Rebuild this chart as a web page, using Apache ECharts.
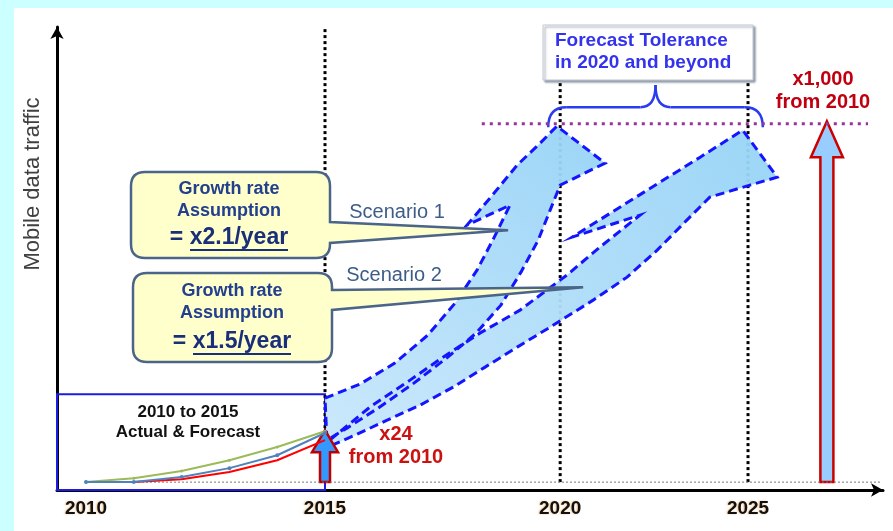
<!DOCTYPE html>
<html>
<head>
<meta charset="utf-8">
<script src="https://cdn.jsdelivr.net/npm/echarts@6.0.0/dist/echarts.min.js"></script>
<style>
html,body{margin:0;padding:0;background:#ccffff;}
#main{width:893px;height:531px;}
</style>
</head>
<body>
<div id="main"></div>
<script>
var FONT = '"Liberation Sans", Arial, sans-serif';

// schematic time axis: position of each year label
var tickPos = [0, 5, 9.92, 13.85];
var tickLabels = ['2010', '2015', '2020', '2025'];

// 2010-2015 actual & forecast (relative traffic, 100 = x1,000 level)
var histPos = [0, 1, 2, 3, 4, 5];
var greenVals = [0, 1.1, 3.1, 6.1, 9.8, 14.2];
var blueVals = [0, 0, 1.4, 3.9, 7.5, 13.7];
var redVals = [0, 0, 0.8, 2.8, 6.1, 11.7];

// scenario bands (outline)
var band1 = [[5.00,23.44],[5.73,27.34],[6.46,33.20],[7.15,41.02],[7.72,49.94],[8.18,59.15],[8.51,67.52],[8.87,77.29],
    [7.97,71.71],[8.45,79.24],[9.02,88.45],[9.50,94.59],[9.85,99.33],[10.86,89.01],[9.92,82.87],
    [9.71,75.89],[9.46,67.52],[9.10,58.59],[8.68,49.39],[8.16,41.57],[7.57,34.88],[6.86,27.62],[6.11,20.65],[5.46,15.07],[5.04,11.72]];
var band2 = [[5.10,11.72],[5.94,20.93],[6.78,28.46],[7.47,34.88],[8.24,41.57],[9.08,47.99],[10.06,57.76],[10.75,65.57],[11.59,74.50],
    [10.17,68.36],[11.17,76.73],[12.01,83.71],[12.85,90.68],[13.74,98.21],[14.46,85.10],[13.89,82.87],[13.05,79.52],
    [12.57,73.10],[11.95,64.73],[11.32,57.20],[10.61,50.78],[9.71,43.25],[9.02,37.67],[8.35,32.09],[7.68,26.51],[6.99,21.48],[6.30,17.30],[5.63,13.11],[5.10,10.04]];
var bands = [band2, band1];

var arrowTips = [[5, 14.5], [15.5, 100.7]];        // x24 in 2015, x1,000 target
var guideLines = [[5, 127], [9.92, 112.2], [13.85, 112.2]];
var targetLine = [[8.28, 100], [16.36, 100]];
var baseLine = [[0, 0], [16.61, 0]];
var histBox = [[-0.607, -2.2, 5, 24.55]];
var braceSpan = [[9.67, 99.05, 14.16, 110.8]];
var calloutTips = [[8.83, 70.3], [10.40, 54.4]];

var arrowLooks = [
    {shaft: 10, head: 26, headLen: 22, fill: '#3399ff', stroke: '#c00000', lw: 2.5},
    {shaft: 13, head: 32, headLen: 36, fill: '#99ccff', stroke: '#cc0000', lw: 2.5}
];
var calloutBoxes = [
    {x: 131, y: 172, w: 199, h: 86, b0: 222, b1: 243},
    {x: 133, y: 273, w: 199, h: 89, b0: 290, b1: 310}
];

var chart = echarts.init(document.getElementById('main'));

function bandPoints(i, api) {
    return bands[i].map(function (p) { return api.coord(p); });
}
function renderBandFill(params, api) {
    return {
        type: 'polygon',
        shape: {points: bandPoints(params.dataIndex, api)},
        style: {
            fill: new echarts.graphic.LinearGradient(0, 1, 1, 0, [
                {offset: 0, color: '#c8e7fb'}, {offset: 1, color: '#96d3f6'}]),
            opacity: 0.95
        }
    };
}
function renderBandEdge(params, api) {
    return {
        type: 'polygon',
        shape: {points: bandPoints(params.dataIndex, api)},
        style: {fill: 'none', stroke: '#1414ff', lineWidth: 3, lineDash: [9, 5]}
    };
}
function renderArrow(params, api) {
    var st = arrowLooks[params.dataIndex];
    var tip = api.coord([api.value(0), api.value(1)]);
    var base = api.coord([api.value(0), 0]);
    var x = tip[0], hw = st.head / 2, sw = st.shaft / 2, hy = tip[1] + st.headLen;
    return {
        type: 'polygon',
        shape: {points: [[x, tip[1]], [x + hw, hy], [x + sw, hy], [x + sw, base[1]],
            [x - sw, base[1]], [x - sw, hy], [x - hw, hy]]},
        style: {fill: st.fill, stroke: st.stroke, lineWidth: st.lw, lineJoin: 'miter'}
    };
}
function renderGuide(params, api) {
    var a = api.coord([api.value(0), 0]);
    var b = api.coord([api.value(0), api.value(1)]);
    return {type: 'line', shape: {x1: a[0], y1: a[1], x2: b[0], y2: b[1]},
        style: {stroke: '#000', lineWidth: 3, lineDash: [3, 3]}};
}
function renderBox(params, api) {
    var a = api.coord([api.value(0), api.value(1)]);
    var b = api.coord([api.value(2), api.value(3)]);
    return {type: 'rect', shape: {x: a[0], y: b[1], width: b[0] - a[0], height: a[1] - b[1]},
        style: {fill: 'none', stroke: '#1c1ce6', lineWidth: 2}};
}
function renderBrace(params, api) {
    var l = api.coord([api.value(0), api.value(1)]);
    var r = api.coord([api.value(2), api.value(1)]);
    var top = api.coord([api.value(0), api.value(3)])[1];
    var yEnd = l[1], yMid = yEnd - 20, xL = l[0], xR = r[0], xM = (xL + xR) / 2;
    var st = {stroke: '#2a3cf0', lineWidth: 2.5, fill: 'none'};
    var c = [
        {type: 'bezierCurve', shape: {x1: xL, y1: yEnd, cpx1: xL, cpy1: yMid, x2: xL + 18, y2: yMid}, style: st},
        {type: 'line', shape: {x1: xL + 18, y1: yMid, x2: xM - 15, y2: yMid}, style: st},
        {type: 'bezierCurve', shape: {x1: xM - 15, y1: yMid, cpx1: xM, cpy1: yMid, x2: xM, y2: top}, style: st},
        {type: 'bezierCurve', shape: {x1: xM, y1: top, cpx1: xM, cpy1: yMid, x2: xM + 15, y2: yMid}, style: st},
        {type: 'line', shape: {x1: xM + 15, y1: yMid, x2: xR - 18, y2: yMid}, style: st},
        {type: 'bezierCurve', shape: {x1: xR - 18, y1: yMid, cpx1: xR, cpy1: yMid, x2: xR, y2: yEnd}, style: st}
    ];
    return {type: 'group', children: c};
}
function renderCallout(params, api) {
    var b = calloutBoxes[params.dataIndex];
    var t = api.coord([api.value(0), api.value(1)]);
    var r = 14, x = b.x, y = b.y, R = b.x + b.w, B = b.y + b.h;
    var d = 'M' + (x + r) + ',' + y + ' L' + (R - r) + ',' + y + ' Q' + R + ',' + y + ' ' + R + ',' + (y + r) +
        ' L' + R + ',' + b.b0 + ' L' + t[0] + ',' + t[1] + ' L' + R + ',' + b.b1 +
        ' L' + R + ',' + (B - r) + ' Q' + R + ',' + B + ' ' + (R - r) + ',' + B +
        ' L' + (x + r) + ',' + B + ' Q' + x + ',' + B + ' ' + x + ',' + (B - r) +
        ' L' + x + ',' + (y + r) + ' Q' + x + ',' + y + ' ' + (x + r) + ',' + y + ' Z';
    return {type: 'path', shape: {pathData: d},
        style: {fill: '#ffffcc', stroke: '#4a6587', lineWidth: 2.5}};
}

function zip(xs, ys) {
    return xs.map(function (x, i) { return [x, ys[i]]; });
}

function txt(x, y, text, font, color, extra) {
    var o = {type: 'text', x: x, y: y, z: 100, silent: true,
        style: {text: text, font: font, fill: color, textAlign: 'center', textVerticalAlign: 'middle'}};
    if (extra) {
        for (var k in extra) { o.style[k] = extra[k]; }
    }
    return o;
}

var yTitle = txt(33, 184, 'Mobile data traffic', '22px ' + FONT, '#404040');
yTitle.rotation = Math.PI / 2;   // reads bottom to top

var option = {
    animation: false,
    backgroundColor: '#ccffff',
    grid: {left: 57, right: 10, top: 27, bottom: 41},
    xAxis: {
        type: 'value', min: -0.607, max: 16.674,
        axisLine: {show: true, onZero: false, symbol: ['none', 'arrow'], symbolSize: [10, 12],
            lineStyle: {color: '#000', width: 3}},
        axisTick: {show: false},
        splitLine: {show: false},
        axisLabel: {
            customValues: tickPos, margin: 9,
            color: '#111', fontSize: 19, fontWeight: 'bold', fontFamily: FONT,
            textShadowColor: 'rgba(235,150,50,0.6)', textShadowBlur: 2, textShadowOffsetX: -1,
            formatter: function (v) {
                for (var i = 0; i < tickPos.length; i++) {
                    if (Math.abs(tickPos[i] - v) < 0.01) return tickLabels[i];
                }
                return '';
            }
        }
    },
    yAxis: {
        type: 'value', min: -2.2, max: 127,
        axisLine: {show: true, onZero: false, symbol: ['none', 'arrow'], symbolSize: [10, 12],
            lineStyle: {color: '#000', width: 3}},
        axisTick: {show: false},
        axisLabel: {show: false},
        splitLine: {show: false}
    },
    graphic: [
        {type: 'rect', z: -10, silent: true, shape: {x: 14, y: 8, width: 879, height: 523}, style: {fill: '#fff'}},
        yTitle,
        txt(188, 422, '2010 to 2015\nActual & Forecast', 'bold 17px ' + FONT, '#111', {lineHeight: 20}),
        txt(396, 446, 'x24\nfrom 2010', 'bold 20px ' + FONT, '#cc1111', {lineHeight: 23}),
        txt(823, 91, 'x1,000\nfrom 2010', 'bold 20px ' + FONT, '#c00010', {lineHeight: 23}),
        {type: 'rect', z: 99, silent: true, shape: {x: 543, y: 25, width: 210, height: 55},
            style: {fill: '#fff', stroke: '#c0c8d0', lineWidth: 1, shadowBlur: 2, shadowOffsetX: 2,
                shadowOffsetY: 2, shadowColor: 'rgba(40,60,90,0.5)'}},
        txt(555, 52, 'Forecast Tolerance\nin 2020 and beyond', 'bold 19px ' + FONT, '#3333ee',
            {lineHeight: 22, textAlign: 'left'}),
        txt(397, 212, 'Scenario 1', '20px ' + FONT, '#3d5d88'),
        txt(394, 275, 'Scenario 2', '20px ' + FONT, '#3d5d88'),
        txt(229, 200, 'Growth rate\nAssumption', 'bold 18px ' + FONT, '#23408e', {lineHeight: 22}),
        txt(229, 238, '= x2.1/year', 'bold 23px ' + FONT, '#1a2f7a'),
        {type: 'line', z: 100, silent: true, shape: {x1: 190, y1: 250, x2: 288, y2: 250},
            style: {stroke: '#1a2f7a', lineWidth: 2}},
        txt(232, 302, 'Growth rate\nAssumption', 'bold 18px ' + FONT, '#23408e', {lineHeight: 22}),
        txt(232, 342, '= x1.5/year', 'bold 23px ' + FONT, '#1a2f7a'),
        {type: 'line', z: 100, silent: true, shape: {x1: 193, y1: 354, x2: 291, y2: 354},
            style: {stroke: '#1a2f7a', lineWidth: 2}}
    ],
    series: [
        {type: 'line', data: baseLine, symbol: 'none', silent: true,
            lineStyle: {color: '#777', width: 1, type: [2, 2]}},
        {type: 'custom', data: histBox, renderItem: renderBox, silent: true},
        {type: 'custom', data: guideLines, renderItem: renderGuide, silent: true},
        {type: 'line', data: zip(histPos, greenVals), symbol: 'circle', symbolSize: 3, silent: true,
            itemStyle: {color: '#9bbb59'}, lineStyle: {color: '#9bbb59', width: 2}},
        {type: 'line', data: zip(histPos, redVals), symbol: 'none', silent: true,
            lineStyle: {color: '#ff0000', width: 2}},
        {type: 'line', data: zip(histPos, blueVals), symbol: 'circle', symbolSize: 4, silent: true,
            itemStyle: {color: '#4f81bd'}, lineStyle: {color: '#4f81bd', width: 2}},
        {type: 'custom', data: [0, 1], renderItem: renderBandFill, silent: true},
        {type: 'custom', data: [0, 1], renderItem: renderBandEdge, silent: true},
        {type: 'line', data: targetLine, symbol: 'none', silent: true,
            lineStyle: {color: '#993399', width: 3, type: [3, 5]}},
        {type: 'custom', data: arrowTips, renderItem: renderArrow, silent: true},
        {type: 'custom', data: braceSpan, renderItem: renderBrace, silent: true},
        {type: 'custom', data: calloutTips, renderItem: renderCallout, silent: true}
    ]
};
chart.setOption(option);
</script>
</body>
</html>
